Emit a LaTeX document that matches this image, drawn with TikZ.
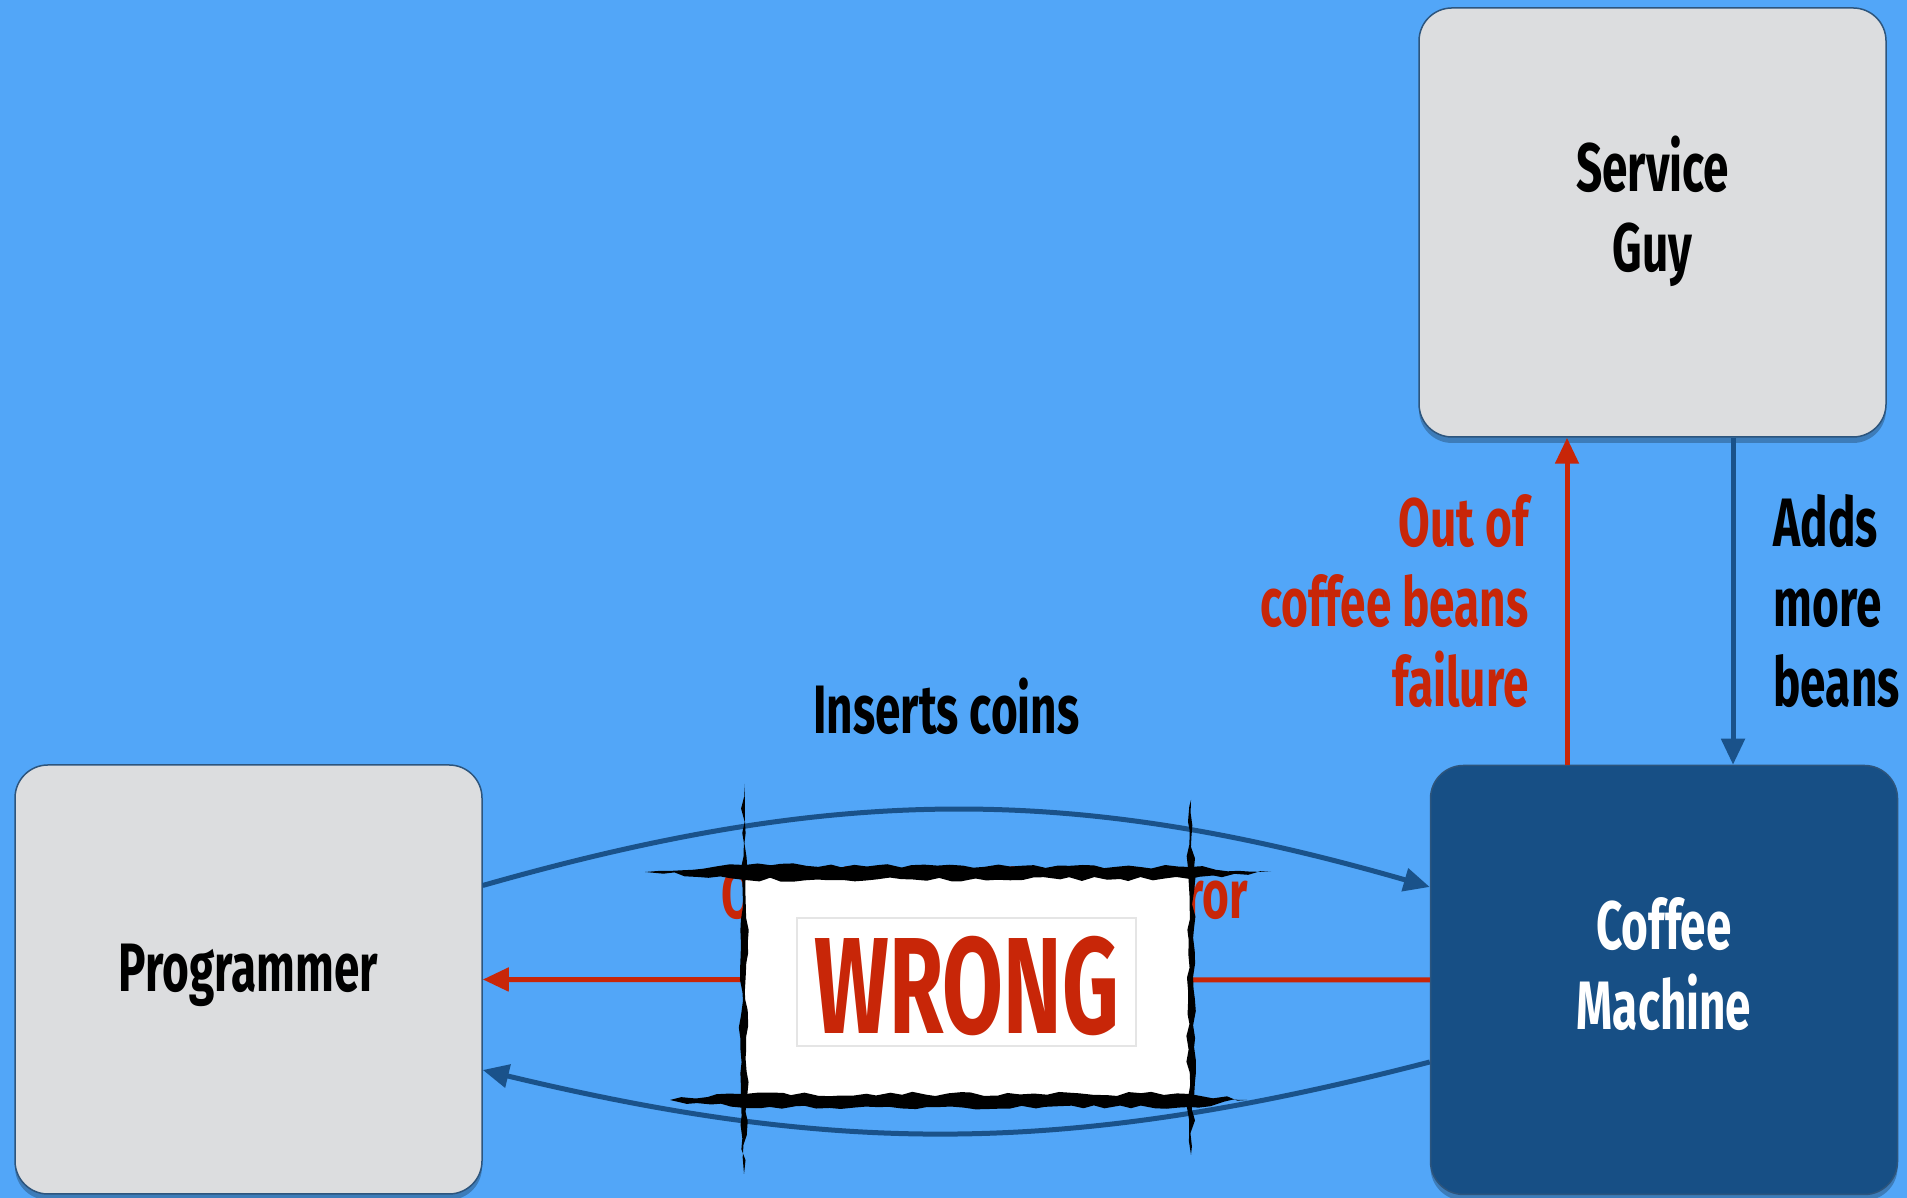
\documentclass[tikz,border=0pt]{standalone}
\usepackage{fontspec}
\setmainfont{Fira Sans}[FakeStretch=0.67]
\usetikzlibrary{arrows.meta, shadows, decorations.pathmorphing}

\definecolor{sky}{RGB}{82,166,248}
\definecolor{boxgray}{RGB}{220,221,223}
\definecolor{boxedge}{RGB}{45,85,125}
\definecolor{machine}{RGB}{23,79,133}
\definecolor{flowblue}{RGB}{26,82,138}
\definecolor{failred}{RGB}{200,38,8}

\tikzset{
  actor/.style={draw=boxedge, line width=0.15mm, fill=boxgray, rounded corners=3.3mm,
    minimum width=46.7mm, minimum height=42.9mm, align=center,
    font=\bfseries\fontsize{19.5}{22.8}\selectfont,
    drop shadow={shadow xshift=0mm, shadow yshift=-0.6mm, opacity=0.25, fill=black}},
  flow/.style={draw=flowblue, line width=0.5mm, -{Triangle[length=2.6mm,width=2.3mm]}},
  fail/.style={draw=failred, line width=0.5mm, -{Triangle[length=2.6mm,width=2.3mm]}},
  tag/.style={inner sep=0pt, font=\bfseries\fontsize{19.5}{22.8}\selectfont},
  brush/.style={fill=black, decorate,
    decoration={random steps, segment length=1.2mm, amplitude=0.22mm}}
}

\begin{document}
\begin{tikzpicture}[x=0.1mm, y=0.1mm]
  \pgfmathsetseed{11}
  \fill[sky] (0,0) rectangle (1907,1198);
  \useasboundingbox (0,0) rectangle (1907,1198);

  % the three parties
  \node[actor, text depth=2.4mm] (prog) at (248.5,218.5) {Programmer};
  \node[actor, text depth=3.8mm] (guy) at (1652.5,975.5) {Service\\Guy};
  \node[actor, text depth=3.3mm, fill=machine, text=white] (cm) at (1664,218) {Coffee\\Machine};

  \coordinate (failx) at (1567,0);
  \coordinate (addx) at (1733,0);

  % machine <-> service guy
  \draw[fail] (cm.north -| failx) -- (guy.south -| failx)
    node[tag, text=failred, midway, left=3.6mm, align=right] {Out of\\coffee beans\\failure};
  \draw[flow] (guy.south -| addx) -- (cm.north -| addx)
    node[tag, midway, right=3.8mm, align=left] {Adds\\more\\beans};

  % programmer <-> machine
  \draw[flow] ([yshift=9.4mm]prog.east) to[bend left=16]
    node[tag, above=7.3mm, xshift=-1mm] {Inserts coins} ([yshift=9.3mm]cm.west);
  \draw[fail] (cm.west) -- (prog.east)
    node[tag, text=failred, pos=0.47, above=5.8mm] {Out of coffee beans error};
  \draw[flow] ([yshift=-8.2mm]cm.west) to[bend left=14] ([yshift=-9.05mm]prog.east);

  % stamp laid over the error path
  \fill[white] (744,97) rectangle (1191,322);
  \draw[black!10, line width=0.2mm] (797,152) rectangle (1136,280);
  \node[font=\bfseries\fontsize{39}{40}\selectfont, text=failred] (wrong) at (967,212)
    {\scalebox{0.96}[1]{WRONG}};

  % rough brush strokes round it
  \fill[brush] (645,326) -- (745,333) -- (1190,331) -- (1271,326) -- (1190,319) -- (745,318) -- cycle;
  \fill[brush] (670,98) -- (745,104) -- (1190,104) -- (1247,98) -- (1190,91) -- (745,90) -- cycle;
  \fill[brush] (744,414) -- (747,330) -- (747,100) -- (744,24) -- (741,100) -- (741,330) -- cycle;
  \fill[brush] (1191,398) -- (1194,330) -- (1194,100) -- (1191,43) -- (1188,100) -- (1188,330) -- cycle;
\end{tikzpicture}
\end{document}
